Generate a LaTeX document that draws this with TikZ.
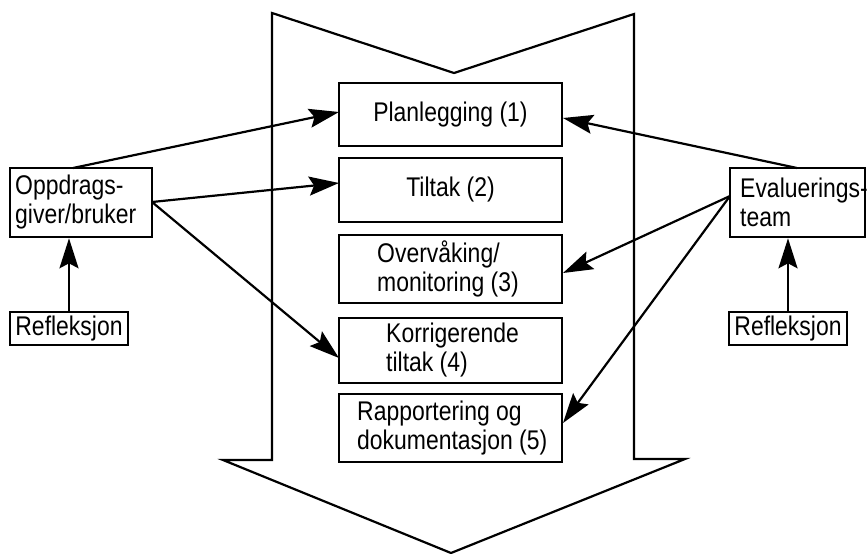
\documentclass[tikz,border=0pt]{standalone}
\usepackage{fontspec}
\setmainfont[FakeStretch=0.85]{Liberation Sans}
\usetikzlibrary{arrows.meta}
\tikzset{
  box/.style={draw, line width=2.6pt, inner sep=0pt, align=left},
  link/.style={line width=2.2pt, -{Stealth[length=30pt,width=19pt,inset=5pt]}},
  lbl/.style={font=\fontsize{27}{29}\selectfont, align=left, inner sep=0pt},
}
\begin{document}
\begin{tikzpicture}[x=1pt, y=-1pt]
  \useasboundingbox (0,0) rectangle (868,554);

  % large downward arrow behind the process steps
  \draw[line width=2.2pt, line join=miter]
    (272,13) -- (454,73) -- (634,14) -- (634,459) -- (685,459)
    -- (451,553) -- (223,460) -- (272,460) -- cycle;

  % process steps
  \node[box, minimum width=223pt, minimum height=63pt] (p1) at (450.5,114.5) {};
  \node[lbl] at (p1.center) {Planlegging (1)};
  \node[box, minimum width=223pt, minimum height=64pt] (p2) at (450.5,190) {};
  \node[lbl] at (p2.center) {Tiltak (2)};
  \node[box, minimum width=223pt, minimum height=68pt] (p3) at (450.5,269) {};
  \node[lbl, anchor=west] at (377,269) {Overvåking/\\monitoring (3)};
  \node[box, minimum width=223pt, minimum height=65pt] (p4) at (450.5,350.5) {};
  \node[lbl, anchor=west] at (386,350.5) {Korrigerende\\tiltak (4)};
  \node[box, minimum width=223pt, minimum height=68pt] (p5) at (450.5,428) {};
  \node[lbl, anchor=west] at (357,428) {Rapportering og\\dokumentasjon (5)};

  % actors and reflection
  \node[box, minimum width=142pt, minimum height=69pt] (oppd) at (81,202.5) {};
  \node[lbl, anchor=west] at (15,202.5) {Oppdrags-\\giver/bruker};
  \node[box, minimum width=118pt, minimum height=33pt] (refl) at (69,328.5) {};
  \node[lbl] at (refl.center) {Refleksjon};
  \node[box, minimum width=135pt, minimum height=69pt] (eval) at (797.5,202.5) {};
  \node[lbl, anchor=west] at (740,202.5) {Evaluerings-\\team};
  \node[box, minimum width=118pt, minimum height=33pt] (refr) at (788,328.5) {};
  \node[lbl] at (refr.center) {Refleksjon};

  % connector end points on the boxes
  \coordinate (o1) at (73,168);
  \coordinate (o2) at (152,202);
  \coordinate (e1) at (797,168);
  \coordinate (e2) at (730,196);

  \draw[link] (o1) -- (339,112);
  \draw[link] (o2) -- (339,183);
  \draw[link] (o2) -- (339,358);
  \draw[link] (e1) -- (563,118);
  \draw[link] (e2) -- (563,273);
  \draw[link] (e2) -- (563,423);
  \draw[link] (refl.north) -- (refl.north |- oppd.south);
  \draw[link] (refr.north) -- (refr.north |- eval.south);
\end{tikzpicture}
\end{document}
